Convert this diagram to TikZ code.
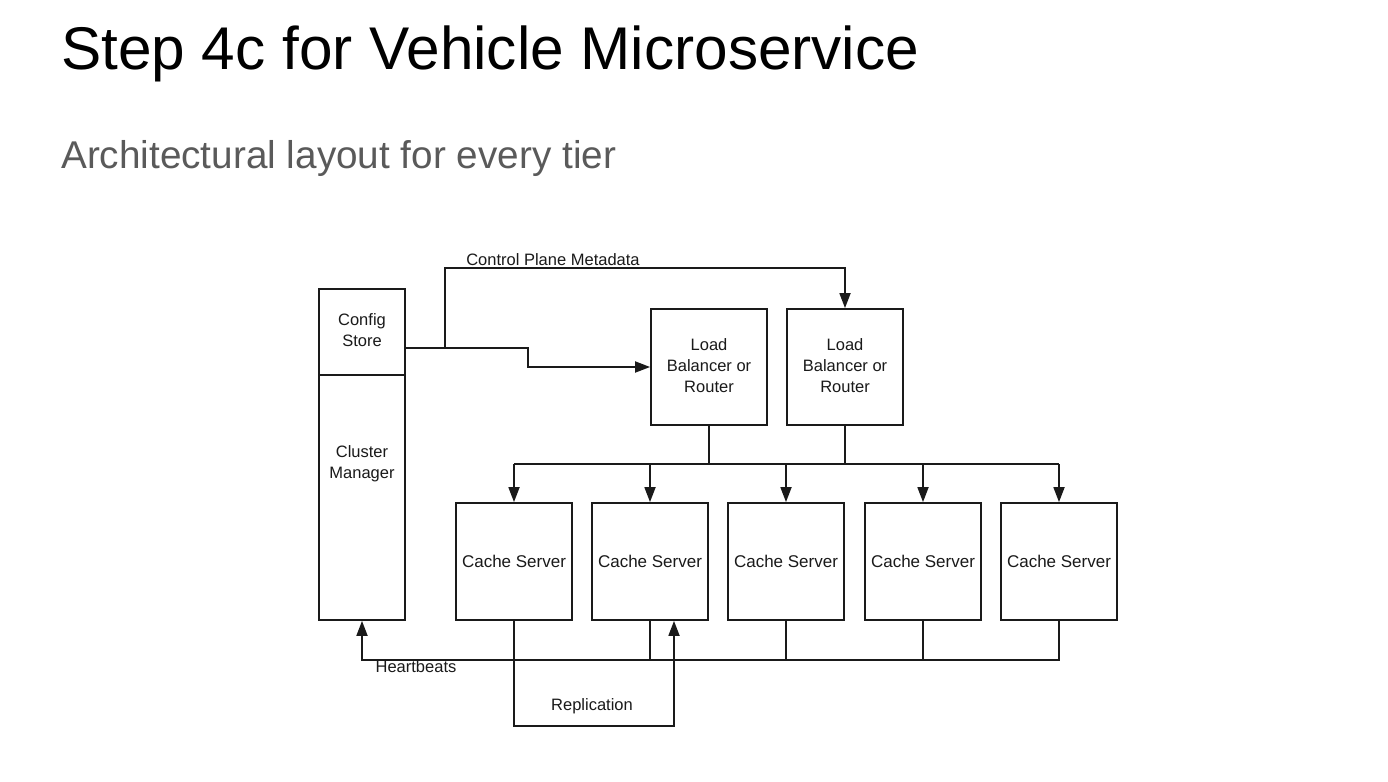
\documentclass[tikz,border=0pt]{standalone}
\usepackage{fontspec}
\setmainfont{Liberation Sans}
\usetikzlibrary{arrows.meta,calc}
\definecolor{sub}{HTML}{5A5A5A}
\definecolor{ink}{HTML}{1A1A1A}
\begin{document}
\begin{tikzpicture}[x=1pt,y=-1pt,
  box/.style={draw=ink,line width=1.8pt,minimum width=116pt,minimum height=117pt,inner sep=0pt,align=center,text=ink,font=\fontsize{17}{21}\selectfont},
  lbl/.style={inner sep=0pt,align=center,text=ink,font=\fontsize{16.5}{21}\selectfont},
  conn/.style={draw=ink,line width=1.8pt},
  arr/.style={conn,-{Triangle[length=15pt,width=11pt]}}]
\useasboundingbox (0,0) rectangle (1388,781);
\fill[white] (0,0) rectangle (1388,781);
\node[anchor=base west,inner sep=0pt,font=\fontsize{60.3}{60}\selectfont] (title) at (61,70) {Step 4c for Vehicle Microservice};
\node[anchor=base west,inner sep=0pt,font=\fontsize{38.7}{40}\selectfont,text=sub] (subtitle) at (61,168) {Architectural layout for every tier};

\node[box,minimum width=86pt,minimum height=86pt] (config) at (362,332) {};
\node[lbl] (configtext) at (362,330) {Config\\Store};
\node[box,minimum width=86pt,minimum height=245pt] (cluster) at (362,497.5) {};
\node[lbl] (clustertext) at (362,464) {Cluster\\Manager};

\node[box,minimum height=116pt] (lb1) at (709,367) {};
\node[lbl] (lb1text) at (709,366) {Load\\Balancer or\\Router};
\node[box,minimum height=116pt] (lb2) at (845,367) {};
\node[lbl] (lb2text) at (845,366) {Load\\Balancer or\\Router};

\node[box] (c1) at (514,561.5) {Cache Server};
\node[box] (c2) at (650,561.5) {Cache Server};
\node[box] (c3) at (786,561.5) {Cache Server};
\node[box] (c4) at (923,561.5) {Cache Server};
\node[box] (c5) at (1059,561.5) {Cache Server};

% control plane
\coordinate (split) at (445,348);
\draw[conn] ([yshift=-16pt]config.east) -- (split);
\draw[arr] (split) -- (445,268) -| (lb2.north);
\draw[arr] (split) -- (528,348) |- (lb1.west);
\node[lbl,anchor=south] (cpm) at (553,266) {Control Plane Metadata};

% load balancers to caches
\coordinate (bus) at (0,464);
\draw[conn] (lb1.south) -- (lb1.south|-bus);
\draw[conn] (lb2.south) -- (lb2.south|-bus);
\draw[conn] (c1.north|-bus) -- (c5.north|-bus);
\foreach \i in {1,...,5}{\draw[arr] (c\i.north|-bus) -- (c\i.north);}

% heartbeats
\coordinate (hb) at (0,660);
\draw[arr] (c5.south) -- (c5.south|-hb) -- (cluster.south|-hb) -- (cluster.south);
\foreach \i in {2,3,4}{\draw[conn] (c\i.south) -- (c\i.south|-hb);}
\node[lbl] (hbt) at (416,667) {Heartbeats};

% replication
\draw[arr] (c1.south) -- (514,726) -| ([xshift=24pt]c2.south);
\node[lbl] (rep) at (592,706) {Replication};
\end{tikzpicture}
\end{document}
